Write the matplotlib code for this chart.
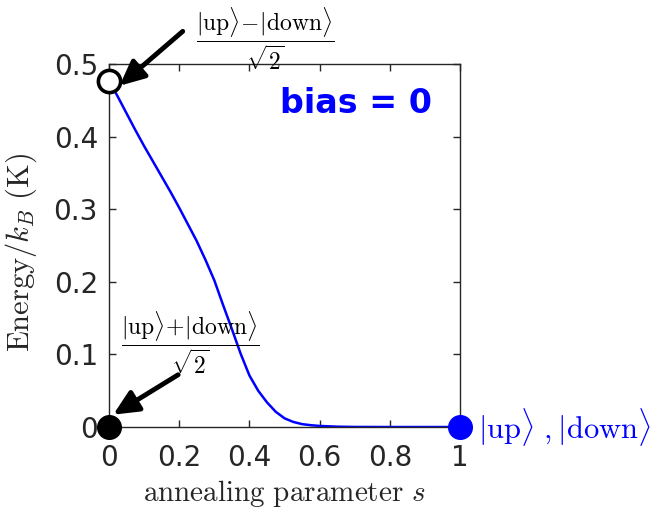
import matplotlib
matplotlib.use("Agg")
import matplotlib.pyplot as plt

# energy gap vs annealing parameter
s_vals = [0.0, 0.025, 0.05, 0.075, 0.10, 0.125, 0.15, 0.175, 0.20, 0.225,
          0.25, 0.275, 0.30, 0.325, 0.35, 0.375, 0.40, 0.425, 0.45, 0.475,
          0.50, 0.525, 0.55, 0.575, 0.60, 0.65, 0.70, 0.80, 0.90, 1.0]
energy = [0.477, 0.455, 0.432, 0.409, 0.387, 0.366, 0.345, 0.324, 0.302, 0.279,
          0.256, 0.230, 0.202, 0.168, 0.135, 0.101, 0.071, 0.050, 0.034, 0.021,
          0.012, 0.007, 0.004, 0.0025, 0.0015, 0.0005, 0.0001, 0.0, 0.0, 0.0]

x_ticks = [0, 0.2, 0.4, 0.6, 0.8, 1]
x_tick_labels = ["0", "0.2", "0.4", "0.6", "0.8", "1"]
y_ticks = [0, 0.1, 0.2, 0.3, 0.4, 0.5]
y_tick_labels = ["0", "0.1", "0.2", "0.3", "0.4", "0.5"]

excited_label = r"$\dfrac{|\mathrm{up}\rangle\!-\!|\mathrm{down}\rangle}{\sqrt{2}}$"
ground_label = r"$\dfrac{|\mathrm{up}\rangle\!+\!|\mathrm{down}\rangle}{\sqrt{2}}$"
end_label = r"$|\mathrm{up}\rangle\ ,|\mathrm{down}\rangle$"

plt.rcParams["mathtext.fontset"] = "cm"
axis_gray = "#262626"

fig = plt.figure(figsize=(6.54, 5.08), dpi=100)
ax = fig.add_axes([0.1667, 0.1594, 0.5367, 0.7146])

ax.plot(s_vals, energy, color="blue", lw=1.8)

# state markers at the ends
ax.plot(s_vals[0], energy[0], "o", ms=16, mfc="white", mec="black", mew=2.6,
        clip_on=False, zorder=5)
ax.plot(0, 0, "o", ms=17, color="black", clip_on=False, zorder=5)
ax.plot(1, 0, "o", ms=17, color="blue", clip_on=False, zorder=5)

ax.set_xlim(0, 1)
ax.set_ylim(0, 0.5)
ax.set_xticks(x_ticks)
ax.set_xticklabels(x_tick_labels)
ax.set_yticks(y_ticks)
ax.set_yticklabels(y_tick_labels)
ax.tick_params(direction="in", top=True, right=True, length=5, width=1,
               color=axis_gray, labelcolor=axis_gray, labelsize=20)
ax.tick_params(axis="x", pad=12)
ax.tick_params(axis="y", pad=8)
for sp in ax.spines.values():
    sp.set_color(axis_gray)
    sp.set_linewidth(1)

ax.set_xlabel(r"$\mathrm{annealing\ parameter}\ s$", fontsize=21, color=axis_gray)
ax.set_ylabel(r"$\mathrm{Energy}/k_B\ \mathrm{(K)}$", fontsize=22, color=axis_gray)
ax.xaxis.set_label_coords(0.5, -0.14)
ax.yaxis.set_label_coords(-0.2, 0.48)

ax.text(0.92, 0.89, "bias = 0", transform=ax.transAxes, ha="right", va="center",
        fontsize=24, fontweight="bold", color="blue")

arrow = dict(arrowstyle="-|>,head_length=1.5,head_width=0.7", color="black",
             lw=3.5, shrinkA=0, shrinkB=0)
ax.annotate("", xy=(0.03, 0.47), xytext=(0.21, 0.545), arrowprops=arrow,
            annotation_clip=False)
ax.annotate("", xy=(0.012, 0.017), xytext=(0.197, 0.072), arrowprops=arrow,
            annotation_clip=False)

ax.text(0.445, 0.535, excited_label, ha="center", va="center", fontsize=17,
        color="black")
ax.text(0.23, 0.117, ground_label, ha="center", va="center", fontsize=17,
        color="black")
ax.text(1.05, 0.0, end_label, ha="left", va="center", fontsize=22,
        color="blue", clip_on=False)

fig.savefig("out.png", dpi=100)
